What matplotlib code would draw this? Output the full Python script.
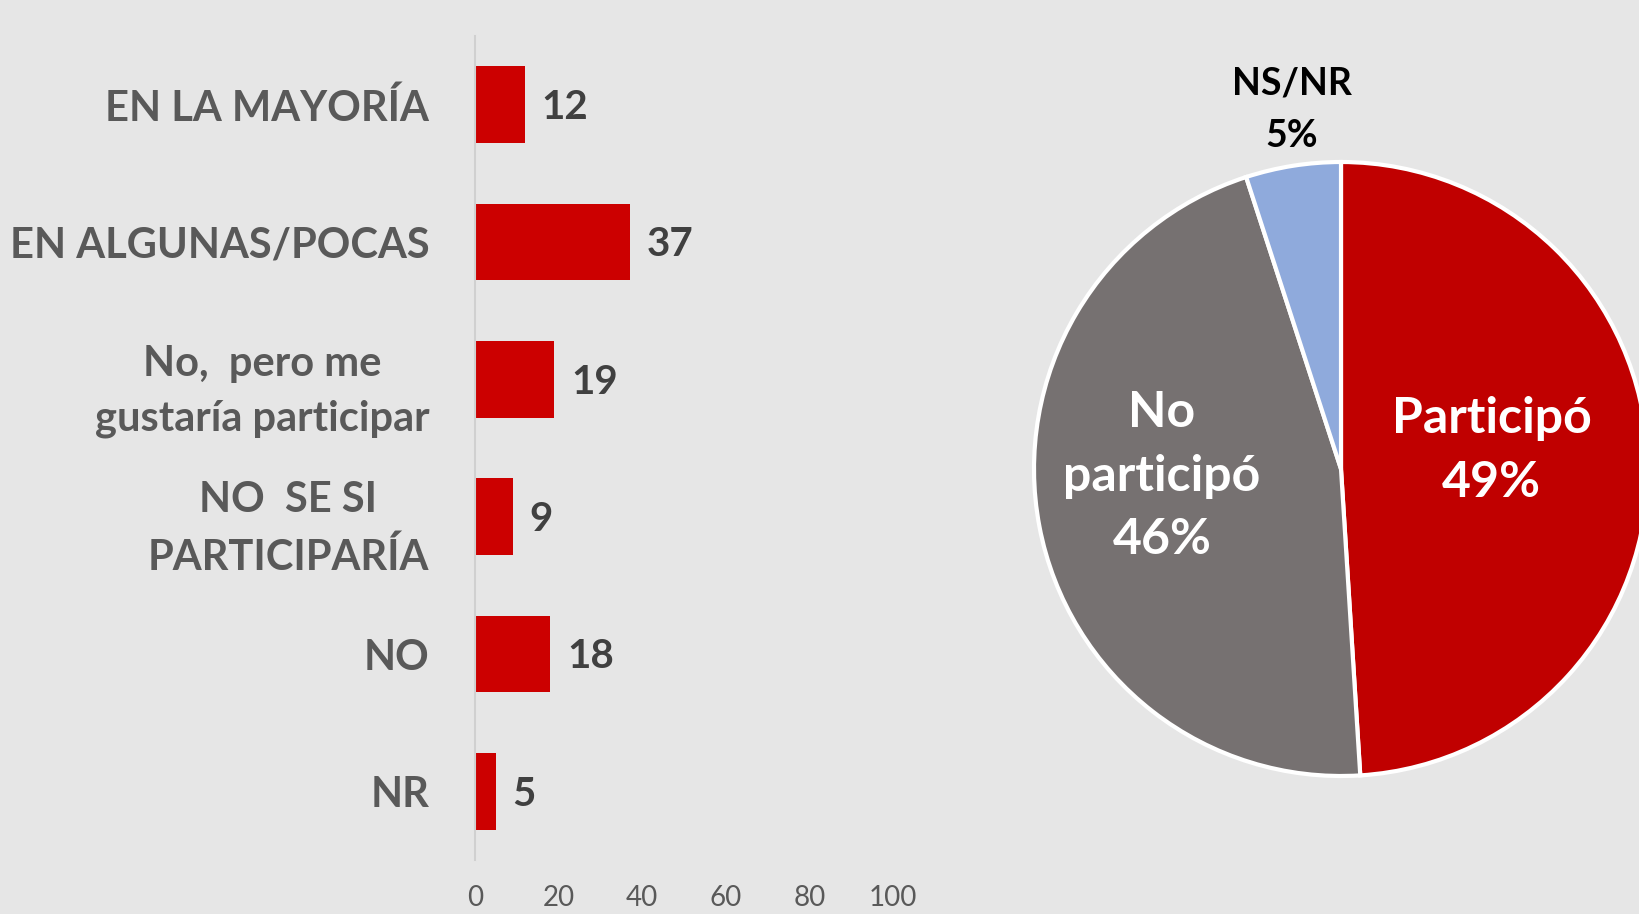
import matplotlib
matplotlib.use("Agg")
import matplotlib.pyplot as plt

categories = ["EN LA MAYORÍA", "EN ALGUNAS/POCAS", "No,  pero me\ngustaría participar",
              "NO  SE SI\nPARTICIPARÍA", "NO", "NR"]
values = [12, 37, 19, 9, 18, 5]
xticks = [0, 20, 40, 60, 80, 100]

pie_labels = ["Participó", "No\nparticipó", "NS/NR"]
pie_values = [49, 46, 5]
pie_colors = ["#C00000", "#767171", "#8FAADC"]

FONT = "Lato"
BG = "#e6e6e6"

fig = plt.figure(figsize=(16.39, 9.14), dpi=100)
fig.patch.set_facecolor(BG)
W, H = 1639, 914

# ---- bar chart ----
ax = fig.add_axes([475 / W, (H - 860) / H, 418 / W, 824 / H])
ax.set_facecolor("none")
y = list(range(len(categories)))
ax.barh(y, values, height=0.56, color="#CC0000")
ax.set_ylim(len(categories) - 0.5, -0.5)
ax.set_xlim(0, 100)
ax.set_yticks(y)
ax.set_yticklabels(categories, fontfamily=FONT, fontweight="bold", fontsize=30,
                   color="#595959", multialignment="center", linespacing=1.55)
ax.set_xticks(xticks)
ax.set_xticklabels([str(t) for t in xticks], fontfamily=FONT, fontsize=20, color="#595959")
ax.tick_params(axis="y", length=0, pad=33)
ax.tick_params(axis="x", length=0, pad=18)
for s in ["top", "right", "bottom"]:
    ax.spines[s].set_visible(False)
ax.spines["left"].set_color("#d0d0d0")
ax.spines["left"].set_linewidth(1.5)
for yi, v in zip(y, values):
    ax.annotate(str(v), (v, yi), xytext=(12, -2), textcoords="offset points",
                ha="left", va="center", fontfamily=FONT, fontweight="bold",
                fontsize=29, color="#404040")

# ---- pie chart ----
R = 307
lim = 1.2
size = 2 * lim * R
cx, cy = 1341, H - 469
pax = fig.add_axes([(cx - size / 2) / W, (cy - size / 2) / H, size / W, size / H])
pax.set_facecolor("none")
pax.pie(pie_values, colors=pie_colors, startangle=90, counterclock=False,
        wedgeprops=dict(edgecolor="white", linewidth=3))
pax.set_xlim(-lim, lim)
pax.set_ylim(-lim, lim)
pax.set_aspect("auto")
pax.axis("off")

txt_kw = dict(fontfamily=FONT, fontweight="bold", ha="center", va="center")
pax.text(0.49, 0.06, f"{pie_labels[0]}\n{pie_values[0]}%", color="white", fontsize=36,
         linespacing=1.5, **txt_kw)
pax.text(-0.583, -0.023, f"{pie_labels[1]}\n{pie_values[1]}%", color="white", fontsize=36,
         linespacing=1.5, **txt_kw)
pax.text(-0.16, 1.17, f"{pie_labels[2]}\n{pie_values[2]}%", color="black", fontsize=27,
         linespacing=1.65, **txt_kw)

fig.savefig("out.png", dpi=100, facecolor=BG)
